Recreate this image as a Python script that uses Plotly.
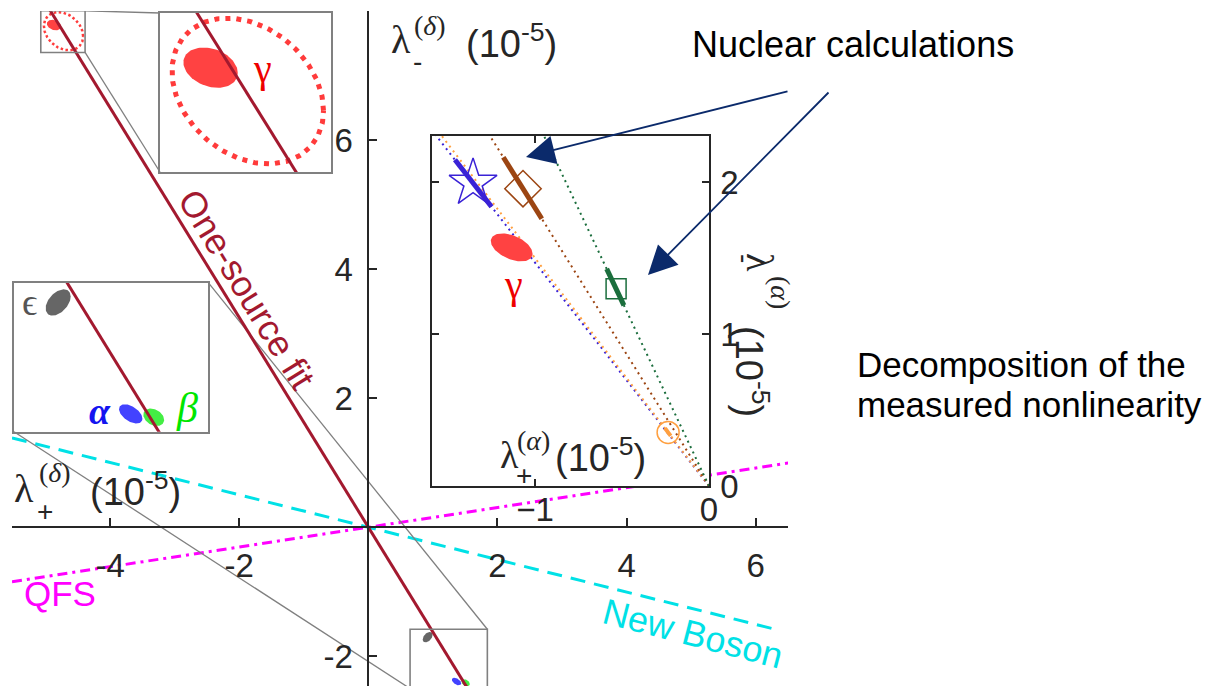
import numpy as np
import plotly.graph_objects as go

W, H = 1230, 686

# ---------------- data (units of 1e-5) ----------------
# main panel
main_x_range = [-5.52, 6.5]
main_y_range = [-2.46, 8.0]
main_xticks = [-4, -2, 2, 4, 6]
main_xticklabels = ["-4", "-2", "2", "4", "6"]
main_yticks = [-2, 2, 4, 6, 8]
main_yticklabels = ["-2", "2", "4", "6", ""]

fit_slope = -1.625          # one-source fit through origin
fit_x = [-5.3, 1.7]
boson_slope = -0.251        # new boson direction
boson_x = [-5.52, 6.375]
qfs_slope = 0.153           # QFS direction
qfs_x = [-5.52, 6.6]

# measured components (filled ellipses)
comp_names = ["gamma", "epsilon", "alpha", "beta"]
comp_cx = [-4.871, 0.918, 1.365, 1.507]
comp_cy = [7.782, -1.703, -2.390, -2.411]
comp_rx = [0.109, 0.077, 0.072, 0.064]
comp_ry = [0.082, 0.081, 0.059, 0.054]
comp_r = [-0.26, 0.45, -0.50, -0.30]
comp_colors = ["#ff4242", "#666666", "#4242ff", "#44ee44"]

# dotted confidence ellipse around gamma
gdot_cx, gdot_cy, gdot_rx, gdot_ry, gdot_r = -4.722, 7.687, 0.304, 0.296, -0.27

# magnified regions (source boxes in main data coordinates)
gbox_x = [-5.074, -4.388]
gbox_y = [7.358, 8.004]
ebox_x = [0.646, 1.843]
ebox_y = [-2.50, -1.581]

# inset panel: nuclear calculations
in_x_range = [-1.592, 0.0]
in_y_range = [0.0, 2.303]
in_xticks = [-1, 0]
in_yticks = [0, 1, 2]
nuc_slopes = [-1.47, -1.50, -1.83, -2.43]
nuc_colors = ["#3a22d6", "#ffa040", "#9c4512", "#1b6e3d"]
nuc_marker_x = [-1.356, -0.235, -1.069, -0.534]
nuc_seg_x0 = [-1.46, -0.253, -1.182, -0.588]
nuc_seg_x1 = [-1.25, -0.220, -0.961, -0.489]
nuc_symbols = ["star-open", "circle-open", "diamond-open", "square-open"]
nuc_sizes = [36, 22, 28, 20]
nuc_segw = [5, 4, 5, 5]
# gamma in inset coordinates
ing_cx, ing_cy, ing_rx, ing_ry, ing_r = -1.134, 1.570, 0.12, 0.092, -0.45

# ---------------- layout geometry ----------------
def dom_x(a, b):
    return [a / W, b / W]

def dom_y(top, bottom):
    return [1 - bottom / H, 1 - top / H]

MAIN_DX, MAIN_DY = dom_x(12, 788), dom_y(11, 686)
INS_DX, INS_DY = dom_x(432, 709), dom_y(136, 486)
GZ_DX, GZ_DY = dom_x(160, 331), dom_y(13, 172)
EZ_DX, EZ_DY = dom_x(14, 208.3), dom_y(282.7, 431.7)

def paper_to_main(fx, fy):
    x = main_x_range[0] + (fx - MAIN_DX[0]) / (MAIN_DX[1] - MAIN_DX[0]) * (main_x_range[1] - main_x_range[0])
    y = main_y_range[0] + (fy - MAIN_DY[0]) / (MAIN_DY[1] - MAIN_DY[0]) * (main_y_range[1] - main_y_range[0])
    return x, y

def ellipse(cx, cy, rx, ry, r, n=90):
    t = np.linspace(0, 2 * np.pi, n)
    x = cx + rx * np.cos(t)
    y = cy + ry * (r * np.cos(t) + np.sqrt(1 - r * r) * np.sin(t))
    return x, y

FIT_COLOR = "#a3192f"
CYAN = "#00e1e6"
MAGENTA = "#ff00ff"
AX = "#262626"
GRAY = "#808080"
NAVY = "#0b2a6b"
SANS = "Liberation Sans, Arial, sans-serif"
SERIF = "Liberation Serif, DejaVu Serif, serif"

fig = go.Figure()

def add_components(xa, ya, dot_width, dot_dash, fit_width):
    for i in range(len(comp_names)):
        ex, ey = ellipse(comp_cx[i], comp_cy[i], comp_rx[i], comp_ry[i], comp_r[i])
        fig.add_trace(go.Scatter(x=ex, y=ey, mode="lines", fill="toself",
                                 fillcolor=comp_colors[i], line=dict(width=0),
                                 xaxis=xa, yaxis=ya, hoverinfo="skip", showlegend=False))
    ex, ey = ellipse(gdot_cx, gdot_cy, gdot_rx, gdot_ry, gdot_r, n=200)
    fig.add_trace(go.Scatter(x=ex, y=ey, mode="lines",
                             line=dict(color="#ff3b3b", width=dot_width, dash=dot_dash),
                             xaxis=xa, yaxis=ya, hoverinfo="skip", showlegend=False))
    fx = np.array(fit_x)
    fig.add_trace(go.Scatter(x=fx, y=fit_slope * fx, mode="lines",
                             line=dict(color=FIT_COLOR, width=fit_width),
                             xaxis=xa, yaxis=ya, hoverinfo="skip", showlegend=False))

# ---- main panel traces ----
bx = np.array(boson_x)
fig.add_trace(go.Scatter(x=bx, y=boson_slope * bx, mode="lines",
                         line=dict(color=CYAN, width=3, dash="15px,9px"),
                         hoverinfo="skip", showlegend=False))
qx = np.array(qfs_x)
fig.add_trace(go.Scatter(x=qx, y=qfs_slope * qx, mode="lines",
                         line=dict(color=MAGENTA, width=3, dash="10px,5px,3px,5px"),
                         hoverinfo="skip", showlegend=False))

# connectors between source boxes and magnified boxes
conn = [
    ((gbox_x[1], gbox_y[1]), paper_to_main(GZ_DX[0], GZ_DY[1])),
    ((gbox_x[1], gbox_y[0]), paper_to_main(GZ_DX[0], GZ_DY[0])),
    (paper_to_main(EZ_DX[0], EZ_DY[0]), (ebox_x[0], ebox_y[0])),
    (paper_to_main(EZ_DX[1], EZ_DY[1]), (ebox_x[1], ebox_y[1])),
]
for a, b in conn:
    fig.add_trace(go.Scatter(x=[a[0], b[0]], y=[a[1], b[1]], mode="lines",
                             line=dict(color=GRAY, width=1.3),
                             hoverinfo="skip", showlegend=False))

add_components("x", "y", 2.5, "2.5px,2.5px", 3)

# ---- magnified panels ----
add_components("x3", "y3", 5, "5px,6px", 3)
add_components("x4", "y4", 5, "5px,6px", 3)

# ---- inset panel ----
for i in range(len(nuc_slopes)):
    lx = np.array([0.0, -1.7])
    fig.add_trace(go.Scatter(x=lx, y=nuc_slopes[i] * lx, mode="lines",
                             line=dict(color=nuc_colors[i], width=2, dash="2px,4px"),
                             xaxis="x2", yaxis="y2", hoverinfo="skip", showlegend=False))
ex, ey = ellipse(ing_cx, ing_cy, ing_rx, ing_ry, ing_r)
fig.add_trace(go.Scatter(x=ex, y=ey, mode="lines", fill="toself", fillcolor="#ff4242",
                         line=dict(width=0), xaxis="x2", yaxis="y2",
                         hoverinfo="skip", showlegend=False))
for i in range(len(nuc_slopes)):
    sx = np.array([nuc_seg_x0[i], nuc_seg_x1[i]])
    fig.add_trace(go.Scatter(x=sx, y=nuc_slopes[i] * sx, mode="lines",
                             line=dict(color=nuc_colors[i], width=nuc_segw[i]),
                             xaxis="x2", yaxis="y2", hoverinfo="skip", showlegend=False))
    fig.add_trace(go.Scatter(x=[nuc_marker_x[i]], y=[nuc_slopes[i] * nuc_marker_x[i]],
                             mode="markers",
                             marker=dict(symbol=nuc_symbols[i], size=nuc_sizes[i],
                                         color=nuc_colors[i], line=dict(width=1.5, color=nuc_colors[i])),
                             xaxis="x2", yaxis="y2", hoverinfo="skip", showlegend=False))

# ---------------- shapes ----------------
shapes = [
    dict(type="rect", xref="x2", yref="y2", x0=in_x_range[0], x1=in_x_range[1],
         y0=in_y_range[0], y1=in_y_range[1], fillcolor="white", line=dict(width=0), layer="below"),
    dict(type="rect", xref="x", yref="y", x0=gbox_x[0], x1=gbox_x[1], y0=gbox_y[0], y1=gbox_y[1],
         line=dict(color=GRAY, width=1.6)),
    dict(type="rect", xref="x", yref="y", x0=ebox_x[0], x1=ebox_x[1], y0=ebox_y[0], y1=ebox_y[1],
         line=dict(color=GRAY, width=1.6)),
]

# ---------------- annotations ----------------
anns = []

def ann(text, px, py, size, color="black", family=SANS, angle=0, xanchor="center", yanchor="middle"):
    anns.append(dict(text=text, x=px / W, y=1 - py / H, xref="paper", yref="paper",
                     showarrow=False, xanchor=xanchor, yanchor=yanchor, textangle=angle,
                     font=dict(size=size, color=color, family=family)))

ann("Nuclear calculations", 853, 45, 36)
ann("Decomposition of the", 855, 364, 35, xanchor="left")
ann("measured nonlinearity", 855, 404, 35, xanchor="left")
ann("One-source fit", 247, 289, 36, FIT_COLOR, angle=58.4)
ann("New Boson", 693, 633, 36, CYAN, angle=14.5)
ann("QFS", 60, 593, 35, MAGENTA)
# main x label
ann("λ", 24, 488, 40, AX, SERIF)
ann("(<i>δ</i>)", 55, 472, 28, AX, SERIF)
ann("+", 45, 511, 28, AX, SANS)
ann("(10<sup>-5</sup>)", 135, 489, 38, AX, SANS)
# main y label
ann("λ", 401, 40, 40, AX, SERIF)
ann("(<i>δ</i>)", 430, 26, 28, AX, SERIF)
ann("-", 417, 62, 28, AX, SANS)
ann("(10<sup>-5</sup>)", 511, 41, 38, AX, SANS)
# inset x label
ann("λ", 509, 455, 38, AX, SERIF)
ann("(<i>α</i>)", 533, 440, 28, AX, SERIF)
ann("+", 524, 475, 28, AX, SANS)
ann("(10<sup>-5</sup>)", 600, 455, 38, AX, SANS)
# inset y label (rotated)
ann("λ", 760, 262, 38, AX, SERIF, angle=90)
ann("-", 745, 258, 28, AX, SANS, angle=90)
ann("(<i>α</i>)", 780, 292, 28, AX, SERIF, angle=90)
ann("(10<sup>-5</sup>)", 752, 372, 38, AX, SANS, angle=90)
# greek labels
ann("γ", 262, 68, 40, "#ee0000", SERIF)
ann("γ", 513, 284, 40, "#ee0000", SERIF)
ann("ϵ", 29, 302, 38, "#555555", SERIF)
ann("<b><i>α</i></b>", 100, 411, 38, "#1414f0", SERIF)
ann("<i>β</i>", 187, 408, 42, "#00e600", SERIF)

# arrows
for (hx, hy), (tx, ty) in [((526, 157), (789, 91)), ((648, 275), (830, 91))]:
    anns.append(dict(text="", x=hx / W, y=1 - hy / H, xref="paper", yref="paper",
                     showarrow=True, ax=tx - hx, ay=ty - hy, axref="pixel", ayref="pixel",
                     arrowhead=2, arrowsize=3.2, arrowwidth=1.8, arrowcolor=NAVY, standoff=0))

# ---------------- axes ----------------
main_x_pos = MAIN_DY[0] + (0 - main_y_range[0]) / (main_y_range[1] - main_y_range[0]) * (MAIN_DY[1] - MAIN_DY[0])
main_y_pos = MAIN_DX[0] + (0 - main_x_range[0]) / (main_x_range[1] - main_x_range[0]) * (MAIN_DX[1] - MAIN_DX[0])

tickfont = dict(size=33, color=AX, family=SANS)
common = dict(showgrid=False, zeroline=False, showline=True, linecolor=AX, automargin=False)

zoom_axis = dict(showgrid=False, zeroline=False, showline=True, mirror=True, linecolor=GRAY,
                 linewidth=2, ticks="", showticklabels=False, automargin=False)

fig.update_layout(
    width=W, height=H, autosize=False,
    margin=dict(l=0, r=0, t=0, b=0, pad=0),
    paper_bgcolor="white", plot_bgcolor="rgba(0,0,0,0)",
    showlegend=False,
    xaxis=dict(domain=MAIN_DX, range=main_x_range, anchor="free", position=main_x_pos,
               tickvals=main_xticks, ticktext=main_xticklabels, ticks="inside", ticklen=8,
               tickwidth=2, tickcolor=AX, linewidth=2, tickfont=tickfont,
               ticklabelstandoff=9, **common),
    yaxis=dict(domain=MAIN_DY, range=main_y_range, anchor="free", position=main_y_pos,
               tickvals=main_yticks, ticktext=main_yticklabels, ticks="inside", ticklen=8,
               tickwidth=2, tickcolor=AX, linewidth=2, tickfont=tickfont,
               ticklabelstandoff=8, **common),
    xaxis2=dict(domain=INS_DX, range=in_x_range, anchor="y2", tickvals=in_xticks,
                ticks="inside", ticklen=7, tickwidth=1.5, tickcolor=AX, linewidth=1.5,
                mirror="ticks", tickfont=tickfont, ticklabelstandoff=-6, **common),
    yaxis2=dict(domain=INS_DY, range=in_y_range, anchor="x2", side="right", tickvals=in_yticks,
                ticks="inside", ticklen=7, tickwidth=1.5, tickcolor=AX, linewidth=1.5,
                mirror="ticks", tickfont=tickfont, ticklabelstandoff=3, **common),
    xaxis3=dict(domain=GZ_DX, range=gbox_x, anchor="y3", **zoom_axis),
    yaxis3=dict(domain=GZ_DY, range=gbox_y, anchor="x3", **zoom_axis),
    xaxis4=dict(domain=EZ_DX, range=ebox_x, anchor="y4", **zoom_axis),
    yaxis4=dict(domain=EZ_DY, range=ebox_y, anchor="x4", **zoom_axis),
    shapes=shapes,
    annotations=anns,
)

fig.write_html("out.html")
